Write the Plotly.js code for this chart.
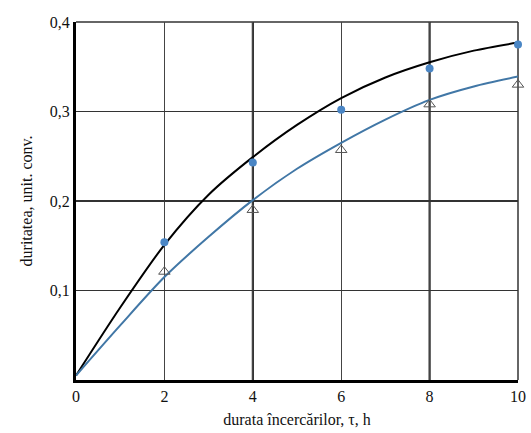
<!DOCTYPE html>
<html>
<head>
<meta charset="utf-8">
<script src="https://cdn.plot.ly/plotly-3.0.1.min.js"></script>
<style>html,body{margin:0;padding:0;background:#fff;}#chart{width:531px;height:433px;}</style>
</head>
<body>
<div id="chart"></div>
<script>
// Measured points
var tPoints = [2, 4, 6, 8, 10];
var circleValues = [0.154, 0.243, 0.302, 0.348, 0.375];
var triangleValues = [0.121, 0.19, 0.257, 0.308, 0.33];

// Fitted curves
var tCurve = [0, 1, 2, 3, 4, 5, 6, 7, 8, 9, 10];
var blackCurve = [0.005, 0.081, 0.151, 0.207, 0.249, 0.285, 0.315, 0.338, 0.355, 0.368, 0.377];
var blueCurve = [0.005, 0.061, 0.115, 0.16, 0.201, 0.236, 0.265, 0.291, 0.313, 0.328, 0.339];

var xTickVals = [0, 2, 4, 6, 8, 10];
var xTickText = ['0', '2', '4', '6', '8', '10'];
var yTickVals = [0.1, 0.2, 0.3, 0.4];
var yTickText = ['0,1', '0,2', '0,3', '0,4'];

var traces = [
  {x: tCurve, y: blackCurve, mode: 'lines', line: {color: '#000', width: 2, shape: 'spline', smoothing: 0.8}, hoverinfo: 'skip'},
  {x: tCurve, y: blueCurve, mode: 'lines', line: {color: '#4177a6', width: 2, shape: 'spline', smoothing: 0.8}, hoverinfo: 'skip'},
  {x: tPoints, y: circleValues, mode: 'markers', cliponaxis: false, marker: {symbol: 'circle', size: 8, color: '#4a86c5'}},
  {x: tPoints, y: triangleValues, mode: 'markers', cliponaxis: false, marker: {symbol: 'triangle-up-open', size: 10, color: '#555', line: {width: 1}}}
];

var fam = 'Liberation Serif, Times New Roman, serif';

var layout = {
  width: 531, height: 433,
  margin: {l: 76, r: 13, t: 22, b: 53},
  paper_bgcolor: '#fff', plot_bgcolor: '#fff',
  showlegend: false,
  font: {family: fam, color: '#111'},
  xaxis: {
    range: [0, 10], tickvals: xTickVals, ticktext: xTickText,
    showgrid: true, gridcolor: '#444', gridwidth: 1.2,
    zeroline: false, showline: true, linecolor: '#000', linewidth: 3,
    ticks: '', ticklen: 0,
    tickfont: {family: fam, size: 16, color: '#111'},
    title: {text: 'durata încercărilor, τ, h', font: {family: fam, size: 16, color: '#111'}, standoff: 10}
  },
  yaxis: {
    range: [0, 0.4], tickvals: yTickVals, ticktext: yTickText,
    showgrid: true, gridcolor: '#333', gridwidth: 1.5,
    zeroline: false, showline: true, linecolor: '#000', linewidth: 3,
    ticks: '', ticklen: 0,
    tickfont: {family: fam, size: 16, color: '#111'},
    title: {text: 'duritatea, unit. conv.', font: {family: fam, size: 16, color: '#111'}, standoff: 14}
  },
  shapes: [
    {type: 'line', xref: 'x', yref: 'paper', x0: 4, x1: 4, y0: 0, y1: 1, line: {color: '#000', width: 2}, layer: 'below'},
    {type: 'line', xref: 'x', yref: 'paper', x0: 8, x1: 8, y0: 0, y1: 1, line: {color: '#000', width: 2}, layer: 'below'},
    {type: 'line', xref: 'paper', yref: 'paper', x0: 1, x1: 1, y0: 0, y1: 1, line: {color: '#333', width: 1.5}, layer: 'below'},
    {type: 'line', xref: 'paper', yref: 'paper', x0: 0, x1: 1, y0: 1, y1: 1, line: {color: '#333', width: 1.5}, layer: 'below'}
  ]
};

Plotly.newPlot('chart', traces, layout, {staticPlot: true, displayModeBar: false});
</script>
</body>
</html>
